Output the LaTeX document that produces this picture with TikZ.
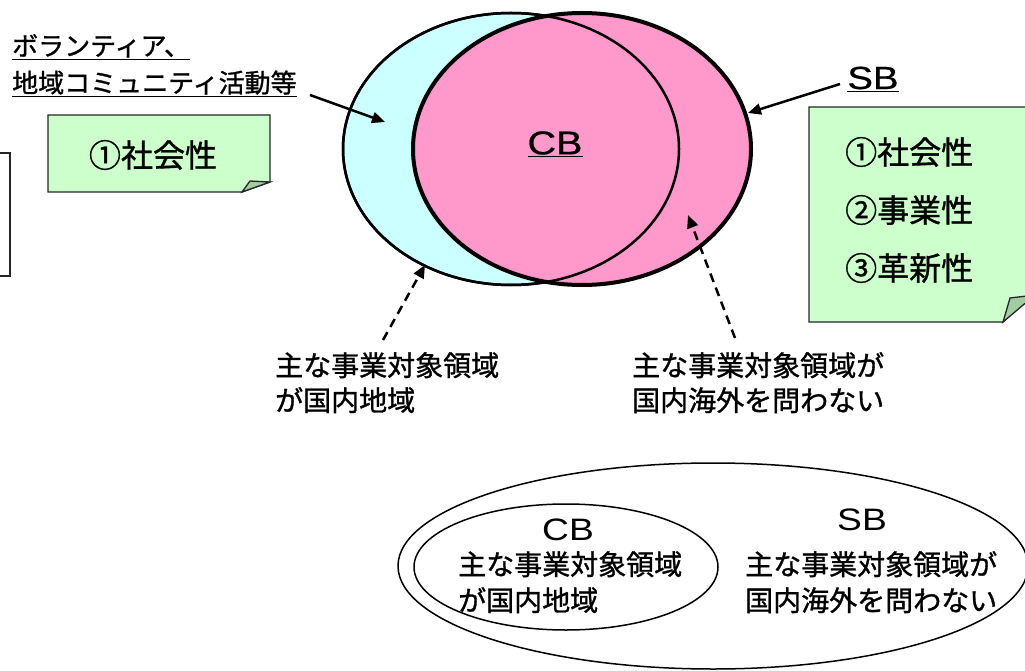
\documentclass[tikz,border=0pt]{standalone}
\usepackage{fontspec}
\setmainfont{Noto Sans CJK JP}[UprightFeatures={FakeBold=1.1}]
\newfontfamily\latin{Liberation Sans}[UprightFeatures={FakeBold=0.6}]
\newfontfamily\latinthin{Liberation Sans}
\usetikzlibrary{arrows.meta}
\definecolor{cbcyan}{HTML}{CCFFFF}
\definecolor{sbpink}{HTML}{FF99CC}
\definecolor{notegreen}{HTML}{CCFFCC}
\definecolor{foldgreen}{HTML}{A3CCA3}
\tikzset{every node/.style={align=left, inner sep=0pt}}
\tikzstyle{pointer} = [line width=2.5, -{Triangle[length=13pt, width=11pt]}]
\tikzstyle{dashpointer} = [pointer, dash pattern=on 9pt off 6pt]
\tikzstyle{note} = [line width=1.3, draw=black!85, fill=notegreen]
\tikzstyle{fold} = [line width=1.3, draw=black!85, fill=foldgreen]
\tikzstyle{jptext} = [font=\fontsize{28}{35}\selectfont]
\newcommand{\wide}[1]{\scalebox{1.2}[1]{#1}}

\begin{document}
\begin{tikzpicture}[x=1pt, y=-1pt]
		\useasboundingbox (0,0) rectangle (1025,671);
		
		% Top ellipses
		\draw[line width=2.5, fill=cbcyan] (511,149) ellipse [x radius=168, y radius=136];
		\draw[line width=4, fill=sbpink] (582,149) ellipse [x radius=169, y radius=136];
		%% right side of the CB ellipse, over the pink one
		\draw[line width=2.5] (511,149) ellipse [x radius=168, y radius=136];
		\node[font=\latin\fontsize{33}{33}\selectfont] (cb) at (555,144) {\underline{\wide{CB}}};
		
		% Left box (cut off)
		\draw[line width=1.5, draw=black!85] (-5,153) -- (10,153) -- (10,276) -- (-5,276);
		
		% Notes
		%% left note
		\draw[note] (48,115) -- (270,115) -- (270,182) -- (242,192) -- (48,192) -- cycle;
		\draw[fold] (242,192) .. controls (246,186) .. (250,181) -- (270,182) -- cycle;
		\node[font=\fontsize{32}{32}\selectfont] (social) at (153,155) {①社会性};
		%% right note
		\draw[note] (809,107) -- (1035,107) -- (1035,292) -- (1003,322) -- (809,322) -- cycle;
		\draw[fold] (1003,322) .. controls (1006,310) .. (1010,298) -- (1035,295) -- cycle;
		\node[anchor=west, font=\fontsize{32}{58}\selectfont] (sbtraits) at (845,210) {①社会性\\②事業性\\③革新性};
		
		% Labels
		\node[anchor=north west, font=\fontsize{26}{37}\selectfont] (volunteer) at (12,34) {\underline{ボランティア、}\\\underline{地域コミュニティ活動等}};
		\node[font=\latin\fontsize{32}{32}\selectfont] (sb) at (873,79) {\underline{\wide{SB}}};
		\node[anchor=north west, jptext] (cbarea) at (275,352) {主な事業対象領域\\が国内地域};
		\node[anchor=north west, jptext] (sbarea) at (632,352) {主な事業対象領域が\\国内海外を問わない};
		
		% Arrows
		\coordinate (volend) at (310,95);
		\coordinate (cyanin) at (385,122);
		\coordinate (sbend) at (840,84);
		\coordinate (sbin) at (748,113);
		\coordinate (cbtail) at (383,340);
		\coordinate (cbtip) at (425,265);
		\coordinate (sbtail) at (735,338);
		\coordinate (sbtip) at (688,215);
		\draw[pointer] (volend) -- (cyanin);
		\draw[pointer] (sbend) -- (sbin);
		\draw[dashpointer] (cbtail) -- (cbtip);
		\draw[dashpointer] (sbtail) -- (sbtip);
		
		% Bottom ellipses
		\draw[line width=1.5] (713,566) ellipse [x radius=315, y radius=103];
		\draw[line width=1.5] (566,567) ellipse [x radius=152, y radius=63];
		\node[font=\latinthin\fontsize{31}{31}\selectfont] (cbsmall) at (568,530) {\wide{CB}};
		\node[font=\latinthin\fontsize{31}{31}\selectfont] (sbsmall) at (862,520) {\wide{SB}};
		\node[anchor=north west, font=\fontsize{28}{36}\selectfont] (cbsmallarea) at (458,551) {主な事業対象領域\\が国内地域};
		\node[anchor=north west, font=\fontsize{28}{36}\selectfont] (sbsmallarea) at (745,551) {主な事業対象領域が\\国内海外を問わない};
	\end{tikzpicture}
\end{document}
